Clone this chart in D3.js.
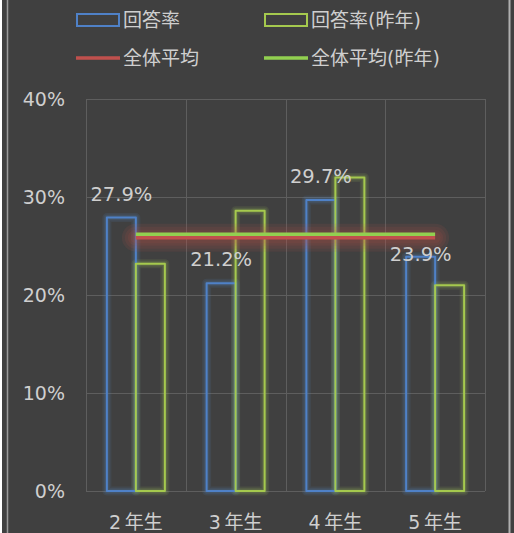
<!DOCTYPE html>
<html>
<head>
<meta charset="utf-8">
<script src="https://cdn.jsdelivr.net/npm/d3@7"></script>
<style>
  html, body { margin: 0; padding: 0; background: #ffffff; }
  svg { display: block; }
  text { font-family: "DejaVu Sans", "Noto Sans CJK JP", sans-serif; fill: #cfcfcf; }
</style>
</head>
<body>
<svg id="chart" width="514" height="533"></svg>
<script>
// chart data
const grades = ["2\u2009年生", "3\u2009年生", "4\u2009年生", "5\u2009年生"];
const rate = [0.279, 0.212, 0.297, 0.239];       // 回答率
const ratePrev = [0.232, 0.286, 0.320, 0.210];   // 回答率(昨年)
const avgRate = [0.2585, 0.2585, 0.2585, 0.2585];     // 全体平均
const avgPrev = [0.262, 0.262, 0.262, 0.262];     // 全体平均(昨年)
const yTicks = [0, 0.1, 0.2, 0.3, 0.4];

const svg = d3.select("#chart");
const W = 514, H = 533;

// background + frame
svg.append("rect").attr("x", 2).attr("y", 0).attr("width", W - 2).attr("height", H).attr("fill", "#404040");
svg.append("line").attr("x1", 7.5).attr("x2", 7.5).attr("y1", 0).attr("y2", H).attr("stroke", "#9a9a9a").attr("stroke-width", 1.5);
svg.append("line").attr("x1", 509.5).attr("x2", 509.5).attr("y1", 0).attr("y2", H).attr("stroke", "#b0b0b0").attr("stroke-width", 2);

const x = d3.scaleBand().domain(grades).range([86, 485]).paddingInner(0).paddingOuter(0);
const x1 = d3.scaleBand().domain(["rate", "prev"]).range([0, x.bandwidth()]).paddingInner(0).paddingOuter(0.72);
const y = d3.scaleLinear().domain([0, 0.4]).range([491, 99]);

// grid
const grid = svg.append("g");
grid.selectAll("line.h").data(yTicks).join("line").attr("class", "h")
  .attr("x1", 86).attr("x2", 485)
  .attr("y1", d => Math.round(y(d)) + 0.5).attr("y2", d => Math.round(y(d)) + 0.5)
  .attr("stroke", "#5e5e5e").attr("stroke-width", 1);
const bounds = grades.map(g => x(g)).concat([x.range()[1]]);
grid.selectAll("line.v").data(bounds).join("line").attr("class", "v")
  .attr("x1", d => Math.round(d) + 0.5).attr("x2", d => Math.round(d) + 0.5)
  .attr("y1", y(0.4)).attr("y2", y(0))
  .attr("stroke", "#5e5e5e").attr("stroke-width", 1);

// y axis labels
const yAxis = d3.axisLeft(y).tickValues(yTicks).tickFormat(d3.format(".0%")).tickSize(0).tickPadding(0);
const ya = svg.append("g").attr("transform", "translate(65,0)").call(yAxis);
ya.select(".domain").remove();
ya.selectAll("text").attr("font-size", 19).attr("dy", "0.35em")
  .style("font-family", "\"DejaVu Sans\", sans-serif").attr("fill", "#cfcfcf");

// x axis labels
const xAxis = d3.axisBottom(x).tickSize(0).tickPadding(0);
const xa = svg.append("g").attr("transform", "translate(0,529)").call(xAxis);
xa.select(".domain").remove();
xa.selectAll("text").attr("font-size", 19).attr("dy", 0).attr("y", 0)
  .style("font-family", "\"DejaVu Sans\", \"Noto Sans CJK JP\", sans-serif").attr("fill", "#cfcfcf");

// glow is faked with stacked wide, faint strokes (filters don't show here)
const bw = x1.bandwidth();
function bars(g, data, key, color, width, opacity) {
  g.selectAll("rect").data(data).join("rect")
    .attr("x", (d, i) => x(grades[i]) + x1(key))
    .attr("y", d => y(d)).attr("width", bw).attr("height", d => y(0) - y(d))
    .attr("fill", "none").attr("stroke", color).attr("stroke-width", width)
    .attr("stroke-opacity", opacity).attr("stroke-linejoin", "round");
}
[9, 6, 4].forEach(w => {
  bars(svg.append("g"), rate, "rate", "#4f81bd", w, 0.12);
  bars(svg.append("g"), ratePrev, "prev", "#9bbb59", w, 0.12);
});

// bars
bars(svg.append("g"), rate, "rate", "#4f81c7", 2, 1);
bars(svg.append("g"), ratePrev, "prev", "#a5c94e", 2, 1);

// average lines
const line = d3.line().x((d, i) => x(grades[i]) + x.bandwidth() / 2).y(d => y(d));
[28, 22, 16, 11].forEach(w => {
  svg.append("path").datum(avgRate).attr("d", line).attr("fill", "none")
    .attr("stroke", "#c0504d").attr("stroke-width", w).attr("stroke-opacity", 0.11)
    .attr("stroke-linecap", "round");
});
svg.append("path").datum(avgRate).attr("d", line).attr("fill", "none")
  .attr("stroke", "#c0504d").attr("stroke-width", 3.5);
svg.append("path").datum(avgPrev).attr("d", line).attr("fill", "none")
  .attr("stroke", "#92d050").attr("stroke-width", 3.5);

// data labels
const labelShift = [-17, -17, -17, 4];
svg.append("g").selectAll("text").data(rate).join("text")
  .attr("x", (d, i) => x(grades[i]) + x1("rate") + bw / 2)
  .attr("y", (d, i) => y(d) + labelShift[i])
  .attr("text-anchor", "middle").attr("font-size", 19.5)
  .text(d => d3.format(".1%")(d));

// legend
const leg = svg.append("g");
const legItems = [
  {label: "回答率", type: "rect", color: "#4f81c7", x: 77, y: 20},
  {label: "回答率(昨年)", type: "rect", color: "#a5c94e", x: 265, y: 20},
  {label: "全体平均", type: "line", color: "#c0504d", x: 77, y: 58},
  {label: "全体平均(昨年)", type: "line", color: "#92d050", x: 265, y: 58}
];
legItems.forEach(it => {
  if (it.type === "rect") {
    leg.append("rect").attr("x", it.x).attr("y", it.y - 6).attr("width", 42).attr("height", 12)
      .attr("fill", "none").attr("stroke", it.color).attr("stroke-width", 2);
  } else {
    leg.append("line").attr("x1", it.x - 1).attr("x2", it.x + 43).attr("y1", it.y).attr("y2", it.y)
      .attr("stroke", it.color).attr("stroke-width", 3.5);
  }
  leg.append("text").attr("x", it.x + 46).attr("y", it.y).attr("dy", "0.36em")
    .attr("font-size", 19).text(it.label);
});
</script>
</body>
</html>
